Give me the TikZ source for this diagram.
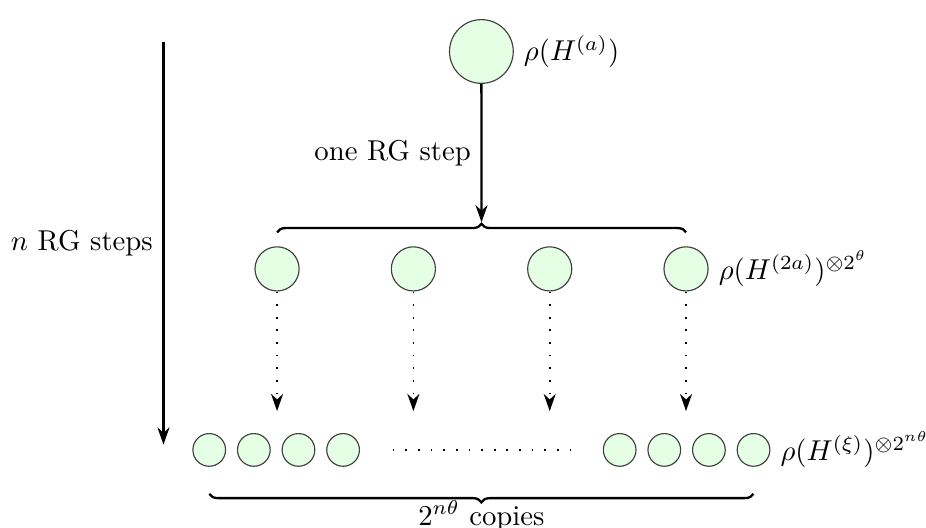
\documentclass[tikz,border=0pt]{standalone}
\usetikzlibrary{decorations.pathreplacing,arrows.meta}
\begin{document}
\begin{tikzpicture}[>={Stealth[length=6pt,width=4.2pt]},
        state/.style={circle,draw=black!75,fill=green!10,inner sep=0pt},
        dotline/.style={semithick,dash pattern=on \pgflinewidth off 3.8pt},
        brace/.style={decorate,decoration={brace,amplitude=3pt},thick}]
        \useasboundingbox (0,0) rectangle (11.33,6.46);
        \node[state,minimum size=0.78cm] (top) at (5.89,5.83) {};
        \node[right] (ltop) at (top.east) {$\rho(H^{(a)})$};
        \coordinate (dots) at (0,1.43);
        \foreach \i in {0,...,3} {
            \node[state,minimum size=0.54cm] (m\i) at (3.39+1.668*\i,3.17) {};
            \draw[->,dotline] (m\i.south) -- (m\i |- dots);
            \node[state,minimum size=0.40cm] (l\i) at (2.56+0.546*\i,0.955) {};
            \node[state,minimum size=0.40cm] (r\i) at (9.22-0.546*\i,0.955) {};
        }
        \node[right] (lmid) at (m3.east) {$\rho(H^{(2a)})^{\otimes 2^{\theta}}$};
        \node[right] (lbot) at (r0.east) {$\rho(H^{(\xi)})^{\otimes 2^{n\theta}}$};
        \draw[dotline] ([xshift=0.4cm]l3.east) -- ([xshift=-0.4cm]r3.west);
        \draw[brace] ([yshift=0.17cm]m0.north) -- ([yshift=0.17cm]m3.north) coordinate[midway] (btop);
        \draw[->,thick] (top.south) -- ([yshift=3.5pt]btop) node[midway,left] (lone) {one RG step};
        \draw[brace] ([yshift=-0.33cm]r0.south) -- ([yshift=-0.33cm]l0.south) node[midway,below=2pt,inner sep=0pt] (lcopies) {$2^{n\theta}$ copies};
        \coordinate (n0) at (2.0,5.95);
        \coordinate (n1) at (2.0,1.02);
        \draw[->,thick] (n0) -- (n1) node[midway,left] (lsteps) {$n$ RG steps};
\end{tikzpicture}
\end{document}
